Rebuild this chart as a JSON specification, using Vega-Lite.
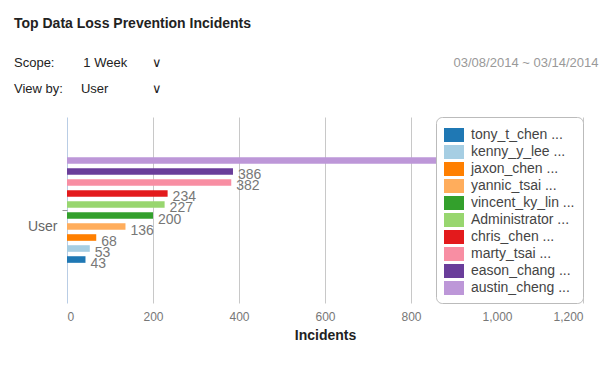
{
  "$schema": "https://vega.github.io/schema/vega-lite/v6.json",
  "width": 516,
  "height": 186,
  "autosize": {"type": "none"},
  "padding": {"left": 67, "top": 117, "right": 17, "bottom": 65},
  "background": "white",
  "title": {
    "text": "Top Data Loss Prevention Incidents",
    "subtitle": ["Scope:\u00a0\u00a0\u00a0\u00a0\u00a0\u00a0\u00a0\u00a01 Week\u00a0\u00a0\u00a0\u00a0\u00a0\u00a0\u00a0∨", "View by:\u00a0\u00a0\u00a0\u00a0\u00a0User\u00a0\u00a0\u00a0\u00a0\u00a0\u00a0\u00a0\u00a0\u00a0\u00a0\u00a0\u00a0∨"],
    "anchor": "start",
    "frame": "group",
    "dx": -53,
    "dy": 50,
    "font": "Liberation Sans",
    "fontSize": 14,
    "fontWeight": "bold",
    "color": "#222222",
    "subtitleFont": "Liberation Sans",
    "subtitleFontSize": 13,
    "subtitleColor": "#222222",
    "subtitlePadding": 26,
    "subtitleLineHeight": 26,
    "offset": 10
  },
  "data": {
    "values": [
      {"group": "User", "user": "tony_t_chen ...", "incidents": 43},
      {"group": "User", "user": "kenny_y_lee ...", "incidents": 53},
      {"group": "User", "user": "jaxon_chen ...", "incidents": 68},
      {"group": "User", "user": "yannic_tsai ...", "incidents": 136},
      {"group": "User", "user": "vincent_ky_lin ...", "incidents": 200},
      {"group": "User", "user": "Administrator ...", "incidents": 227},
      {"group": "User", "user": "chris_chen ...", "incidents": 234},
      {"group": "User", "user": "marty_tsai ...", "incidents": 382},
      {"group": "User", "user": "eason_chang ...", "incidents": 386},
      {"group": "User", "user": "austin_cheng ...", "incidents": 1050}
    ]
  },
  "encoding": {
    "y": {
      "field": "group",
      "type": "nominal",
      "scale": {"paddingOuter": 0.345, "paddingInner": 0},
      "axis": {
        "domain": false,
        "ticks": true,
        "tickSize": 5,
        "tickColor": "#999999",
        "labelPadding": 5,
        "labelOffset": 17,
        "labelFont": "Liberation Sans",
        "labelFontSize": 14,
        "labelColor": "#666666",
        "grid": false,
        "title": "03/08/2014 ~ 03/14/2014",
        "titleAngle": 0,
        "titleX": 531,
        "titleY": -55,
        "titleAlign": "right",
        "titleBaseline": "middle",
        "titleColor": "#999999",
        "titleFont": "Liberation Sans",
        "titleFontWeight": "normal",
        "titleFontSize": 13
      }
    },
    "yOffset": {
      "field": "user",
      "type": "nominal",
      "sort": ["austin_cheng ...", "eason_chang ...", "marty_tsai ...", "chris_chen ...", "Administrator ...", "vincent_ky_lin ...", "yannic_tsai ...", "jaxon_chen ...", "kenny_y_lee ...", "tony_t_chen ..."],
      "scale": {"paddingInner": 0.4, "paddingOuter": 0.2}
    },
    "x": {
      "field": "incidents",
      "type": "quantitative",
      "scale": {"domain": [0, 1200], "nice": false},
      "axis": {
        "values": [0, 200, 400, 600, 800, 1000, 1200],
        "format": ",d",
        "grid": true,
        "gridColor": {"condition": {"test": "datum.value === 0", "value": "#b9cde5"}, "value": "#c8c8c8"},
        "domain": false,
        "ticks": false,
        "labelPadding": 8,
        "labelFont": "Liberation Sans",
        "labelFontSize": 12,
        "labelColor": "#777777",
        "title": "Incidents",
        "titleFont": "Liberation Sans",
        "titleFontSize": 14,
        "titleFontWeight": "bold",
        "titleColor": "#222222",
        "titlePadding": 6
      }
    }
  },
  "layer": [
    {
      "mark": {"type": "bar"},
      "encoding": {
        "color": {
          "field": "user",
          "type": "nominal",
          "scale": {
            "domain": ["tony_t_chen ...", "kenny_y_lee ...", "jaxon_chen ...", "yannic_tsai ...", "vincent_ky_lin ...", "Administrator ...", "chris_chen ...", "marty_tsai ...", "eason_chang ...", "austin_cheng ..."],
            "range": ["#1f78b4", "#a6cee3", "#ff7f00", "#ffad5c", "#33a02c", "#98d66f", "#e31a1c", "#f88ea3", "#6a3d9a", "#bd97d8"]
          },
          "legend": {
            "orient": "top-right",
            "offset": 0,
            "title": null,
            "padding": 8,
            "strokeColor": "#bbbbbb",
            "fillColor": "white",
            "cornerRadius": 6,
            "symbolType": "M-1,-0.7H1V0.7H-1Z",
            "symbolSize": 400,
            "symbolStrokeWidth": 0,
            "symbolOpacity": 1,
            "labelFont": "Liberation Sans",
            "labelFontSize": 14,
            "labelColor": "#444444",
            "labelOffset": 7,
            "labelLimit": 200,
            "rowPadding": -2
          }
        }
      }
    },
    {
      "mark": {"type": "text", "align": "left", "baseline": "middle", "dx": 5, "dy": 4, "font": "Liberation Sans", "fontSize": 14, "color": "#777777"},
      "encoding": {
        "text": {"field": "incidents", "type": "quantitative", "format": ",d"}
      }
    }
  ],
  "config": {"view": {"stroke": null}}
}
